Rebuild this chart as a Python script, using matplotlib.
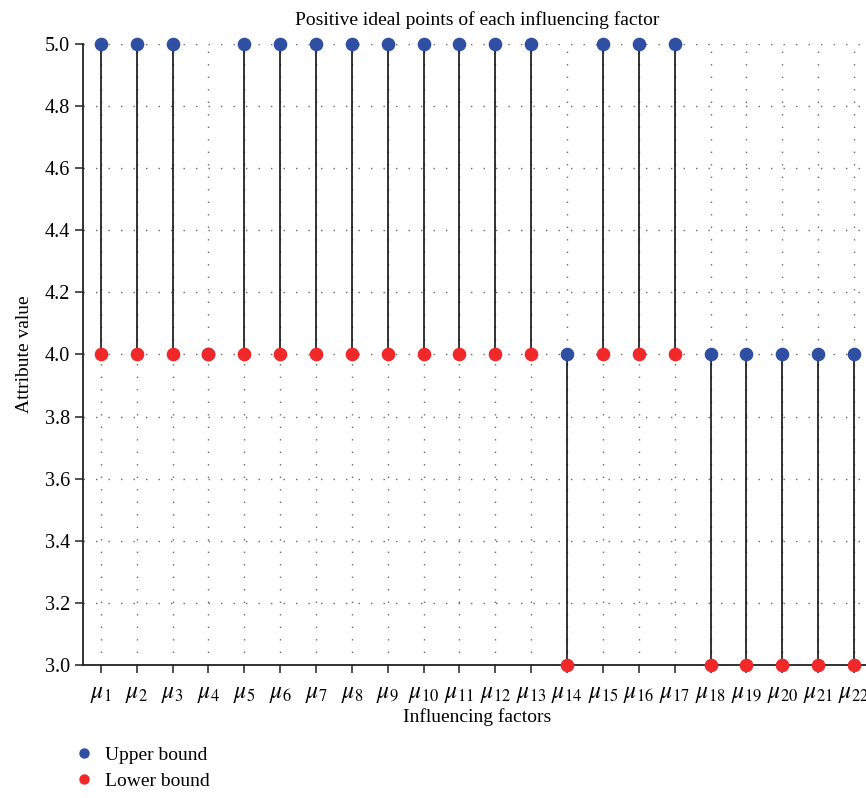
import numpy as np
import matplotlib.pyplot as plt
from matplotlib.lines import Line2D

plt.rcParams['font.family'] = ['Liberation Serif', 'DejaVu Serif']
plt.rcParams['mathtext.fontset'] = 'stix'

factors = [r'$\mu_{%d}$' % i for i in range(1, 23)]
upper = [5, 5, 5, 4, 5, 5, 5, 5, 5, 5, 5, 5, 5, 4, 5, 5, 5, 4, 4, 4, 4, 4]
lower = [4, 4, 4, 4, 4, 4, 4, 4, 4, 4, 4, 4, 4, 3, 4, 4, 4, 3, 3, 3, 3, 3]

BLUE = '#2f4fa2'
RED = '#f0282a'


def main():
    x = np.arange(1, len(factors) + 1)
    fig = plt.figure(figsize=(8.66, 7.98), dpi=100)
    ax = fig.add_axes([0.0958, 0.1667, 0.911, 0.7782])

    ax.vlines(x, lower, upper, color='#111111', linewidth=1.2, zorder=2)
    ax.plot(x, upper, 'o', color=BLUE, markersize=8.8, clip_on=False, zorder=3)
    ax.plot(x, lower, 'o', color=RED, markersize=8.8, clip_on=False, zorder=4)

    ax.set_xlim(0.5, 22.5)
    ax.set_ylim(3.0, 5.0)
    ax.set_xticks(x)
    ax.set_xticklabels(factors)
    ax.set_yticks(np.arange(3.0, 5.01, 0.2))
    ax.set_yticklabels(['%.1f' % v for v in np.arange(3.0, 5.01, 0.2)])
    ax.tick_params(length=6, width=1.1, color='#222222')
    ax.tick_params(axis='y', labelsize=14.5)
    ax.tick_params(axis='x', labelsize=17, pad=8)

    ax.grid(True, linestyle=(0, (1, 8)), color='#666666', linewidth=1.0)
    ax.set_axisbelow(True)
    for s in ['top', 'right']:
        ax.spines[s].set_visible(False)
    for s in ['left', 'bottom']:
        ax.spines[s].set_linewidth(1.3)
        ax.spines[s].set_color('#222222')

    ax.set_title('Positive ideal points of each influencing factor', fontsize=14, pad=14)
    ax.set_ylabel('Attribute value', fontsize=14, labelpad=8)
    ax.set_xlabel('Influencing factors', fontsize=14, labelpad=2)

    handles = [
        Line2D([], [], marker='o', linestyle='none', color=BLUE, markersize=6.5, label='Upper bound'),
        Line2D([], [], marker='o', linestyle='none', color=RED, markersize=6.5, label='Lower bound'),
    ]
    fig.legend(handles=handles, loc='lower left', bbox_to_anchor=(0.07, -0.012),
               frameon=False, fontsize=14, handlelength=0.6, handletextpad=0.8,
               labelspacing=0.45)

    fig.savefig('out.png', dpi=100)


if __name__ == '__main__':
    main()
